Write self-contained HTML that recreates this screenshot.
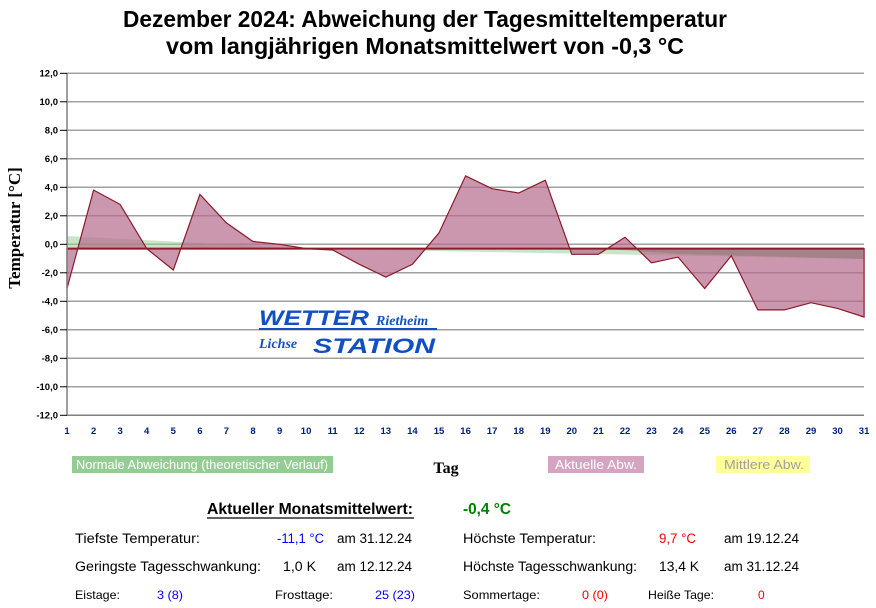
<!DOCTYPE html>
<html><head><meta charset="utf-8"><style>
html,body{margin:0;padding:0;background:#fff;}
svg{display:block;font-family:"Liberation Sans",Arial,sans-serif;}
</style></head><body>
<svg width="876" height="608" viewBox="0 0 876 608" xmlns="http://www.w3.org/2000/svg">
<rect width="876" height="608" fill="#fff"/>
<g font-weight="bold" font-size="23" text-anchor="middle">
<text x="425" y="27" textLength="604" lengthAdjust="spacingAndGlyphs">Dezember 2024: Abweichung der Tagesmitteltemperatur</text>
<text x="425" y="54" textLength="518" lengthAdjust="spacingAndGlyphs">vom langjährigen Monatsmittelwert von -0,3 °C</text>
</g>
<g stroke="#a0a0a0" stroke-width="1.5">
<line x1="67" x2="864" y1="73.3" y2="73.3"/><line x1="67" x2="864" y1="101.8" y2="101.8"/>
<line x1="67" x2="864" y1="130.3" y2="130.3"/><line x1="67" x2="864" y1="158.8" y2="158.8"/>
<line x1="67" x2="864" y1="187.3" y2="187.3"/><line x1="67" x2="864" y1="215.8" y2="215.8"/>
<line x1="67" x2="864" y1="244.3" y2="244.3"/><line x1="67" x2="864" y1="272.8" y2="272.8"/>
<line x1="67" x2="864" y1="301.3" y2="301.3"/><line x1="67" x2="864" y1="329.8" y2="329.8"/>
<line x1="67" x2="864" y1="358.3" y2="358.3"/><line x1="67" x2="864" y1="386.8" y2="386.8"/>
<line x1="67" x2="864" y1="415.3" y2="415.3"/>
</g>
<polygon points="67,248.6 67,236 306,248.6 864,259 864,248.6" fill="#9ccf9c" opacity="0.55"/>
<polygon fill="#b56b8c" fill-opacity="0.7" stroke="#8b1a2a" stroke-width="1.2" points="67,248.6 67,288.5 93.6,190.1 120.1,204.4 146.7,248.6 173.3,270 199.9,194.4 226.4,222.9 253,241.5 279.6,244.3 306.1,248.6 332.7,250 359.3,264.3 385.8,277.1 412.4,264.3 439,232.9 465.6,175.9 492.1,188.7 518.7,193 545.3,180.2 571.8,254.3 598.4,254.3 625,237.2 651.5,262.8 678.1,257.1 704.7,288.5 731.3,255.7 757.8,309.9 784.4,309.9 811,302.7 837.5,308.4 864.1,317 864.1,248.6"/>
<polygon points="600,248.6 864,248.6 864,259 680,254" fill="#7a6a6a" opacity="0.35"/>
<line x1="67" x2="864" y1="248.6" y2="248.6" stroke="#8b1a2a" stroke-width="2"/>
<line x1="67" x2="67" y1="73" y2="416" stroke="#808080" stroke-width="1.5"/>
<line x1="67" x2="864" y1="415.3" y2="415.3" stroke="#808080" stroke-width="1.5"/>
<g font-size="9.5" font-weight="bold" text-anchor="end" fill="#000">
<text x="58" y="76.5">12,0</text><text x="58" y="105">10,0</text><text x="58" y="133.5">8,0</text>
<text x="58" y="162">6,0</text><text x="58" y="190.5">4,0</text><text x="58" y="219">2,0</text>
<text x="58" y="247.5">0,0</text><text x="58" y="276">-2,0</text><text x="58" y="304.5">-4,0</text>
<text x="58" y="333">-6,0</text><text x="58" y="361.5">-8,0</text><text x="58" y="390">-10,0</text>
<text x="58" y="418.5">-12,0</text>
</g>
<g stroke="#000" stroke-width="1">
<line x1="60" x2="67" y1="73.3" y2="73.3"/><line x1="60" x2="67" y1="101.8" y2="101.8"/><line x1="60" x2="67" y1="130.3" y2="130.3"/><line x1="60" x2="67" y1="158.8" y2="158.8"/><line x1="60" x2="67" y1="187.3" y2="187.3"/><line x1="60" x2="67" y1="215.8" y2="215.8"/><line x1="60" x2="67" y1="244.3" y2="244.3"/><line x1="60" x2="67" y1="272.8" y2="272.8"/><line x1="60" x2="67" y1="301.3" y2="301.3"/><line x1="60" x2="67" y1="329.8" y2="329.8"/><line x1="60" x2="67" y1="358.3" y2="358.3"/><line x1="60" x2="67" y1="386.8" y2="386.8"/><line x1="60" x2="67" y1="415.3" y2="415.3"/>
</g>
<g font-size="9.5" font-weight="bold" text-anchor="middle" fill="#002080">
<text x="67" y="434">1</text><text x="93.6" y="434">2</text><text x="120.1" y="434">3</text><text x="146.7" y="434">4</text><text x="173.3" y="434">5</text><text x="199.9" y="434">6</text><text x="226.4" y="434">7</text><text x="253" y="434">8</text><text x="279.6" y="434">9</text><text x="306.1" y="434">10</text><text x="332.7" y="434">11</text><text x="359.3" y="434">12</text><text x="385.8" y="434">13</text><text x="412.4" y="434">14</text><text x="439" y="434">15</text><text x="465.6" y="434">16</text><text x="492.1" y="434">17</text><text x="518.7" y="434">18</text><text x="545.3" y="434">19</text><text x="571.8" y="434">20</text><text x="598.4" y="434">21</text><text x="625" y="434">22</text><text x="651.5" y="434">23</text><text x="678.1" y="434">24</text><text x="704.7" y="434">25</text><text x="731.3" y="434">26</text><text x="757.8" y="434">27</text><text x="784.4" y="434">28</text><text x="811" y="434">29</text><text x="837.5" y="434">30</text><text x="864.1" y="434">31</text>
</g>
<text transform="translate(20,228) rotate(-90)" text-anchor="middle" font-family="Liberation Serif,serif" font-weight="bold" font-size="17">Temperatur [°C]</text>
<g font-style="italic" font-weight="bold" fill="#1050c0">
<text x="259" y="325" font-size="21" textLength="110" lengthAdjust="spacingAndGlyphs">WETTER</text>
<text x="376" y="325" font-family="Liberation Serif,serif" font-size="14">Rietheim</text>
<rect x="259" y="328" width="178" height="2"/>
<text x="259" y="348" font-family="Liberation Serif,serif" font-size="14">Lichse</text>
<text x="313" y="353" font-size="21" textLength="122" lengthAdjust="spacingAndGlyphs">STATION</text>
</g>
<rect x="72" y="456" width="261" height="17" fill="#94cc94"/>
<text x="76" y="469" font-size="12.5" fill="#fff" textLength="252" lengthAdjust="spacingAndGlyphs">Normale Abweichung (theoretischer Verlauf)</text>
<text x="446" y="473" text-anchor="middle" font-family="Liberation Serif,serif" font-weight="bold" font-size="16">Tag</text>
<rect x="548" y="456" width="96" height="17" fill="#d4a4c0"/>
<text x="555" y="469" font-size="12.5" fill="#fff" textLength="82" lengthAdjust="spacingAndGlyphs">Aktuelle Abw.</text>
<rect x="716" y="456" width="94" height="17" fill="#ffff9c"/>
<text x="724" y="469" font-size="12.5" fill="#a0a0a0" textLength="80" lengthAdjust="spacingAndGlyphs">Mittlere Abw.</text>
<text x="207" y="514" font-size="16" font-weight="bold" textLength="206" lengthAdjust="spacingAndGlyphs">Aktueller Monatsmittelwert:</text>
<line x1="207" x2="414" y1="518" y2="518" stroke="#000" stroke-width="1.2"/>
<text x="463" y="514" font-size="16" font-weight="bold" fill="#008000" textLength="48" lengthAdjust="spacingAndGlyphs">-0,4 °C</text>
<g font-size="13.5">
<text x="75" y="543" textLength="125" lengthAdjust="spacingAndGlyphs">Tiefste Temperatur:</text>
<text x="277" y="543" fill="#0000ff" textLength="47" lengthAdjust="spacingAndGlyphs">-11,1 °C</text>
<text x="337" y="543" textLength="75" lengthAdjust="spacingAndGlyphs">am 31.12.24</text>
<text x="463" y="543" textLength="133" lengthAdjust="spacingAndGlyphs">Höchste Temperatur:</text>
<text x="659" y="543" fill="#ff0000" textLength="37" lengthAdjust="spacingAndGlyphs">9,7 °C</text>
<text x="724" y="543" textLength="75" lengthAdjust="spacingAndGlyphs">am 19.12.24</text>
<text x="75" y="571" textLength="186" lengthAdjust="spacingAndGlyphs">Geringste Tagesschwankung:</text>
<text x="283" y="571" textLength="33" lengthAdjust="spacingAndGlyphs">1,0 K</text>
<text x="337" y="571" textLength="75" lengthAdjust="spacingAndGlyphs">am 12.12.24</text>
<text x="463" y="571" textLength="174" lengthAdjust="spacingAndGlyphs">Höchste Tagesschwankung:</text>
<text x="659" y="571" textLength="40" lengthAdjust="spacingAndGlyphs">13,4 K</text>
<text x="724" y="571" textLength="75" lengthAdjust="spacingAndGlyphs">am 31.12.24</text>
</g>
<g font-size="12">
<text x="75" y="599" textLength="45" lengthAdjust="spacingAndGlyphs">Eistage:</text>
<text x="157" y="599" fill="#0000ff" textLength="26" lengthAdjust="spacingAndGlyphs">3 (8)</text>
<text x="275" y="599" textLength="58" lengthAdjust="spacingAndGlyphs">Frosttage:</text>
<text x="375" y="599" fill="#0000ff" textLength="40" lengthAdjust="spacingAndGlyphs">25 (23)</text>
<text x="463" y="599" textLength="77" lengthAdjust="spacingAndGlyphs">Sommertage:</text>
<text x="582" y="599" fill="#ff0000" textLength="26" lengthAdjust="spacingAndGlyphs">0 (0)</text>
<text x="648" y="599" textLength="66" lengthAdjust="spacingAndGlyphs">Heiße Tage:</text>
<text x="758" y="599" fill="#ff0000">0</text>
</g>
</svg>
</body></html>
